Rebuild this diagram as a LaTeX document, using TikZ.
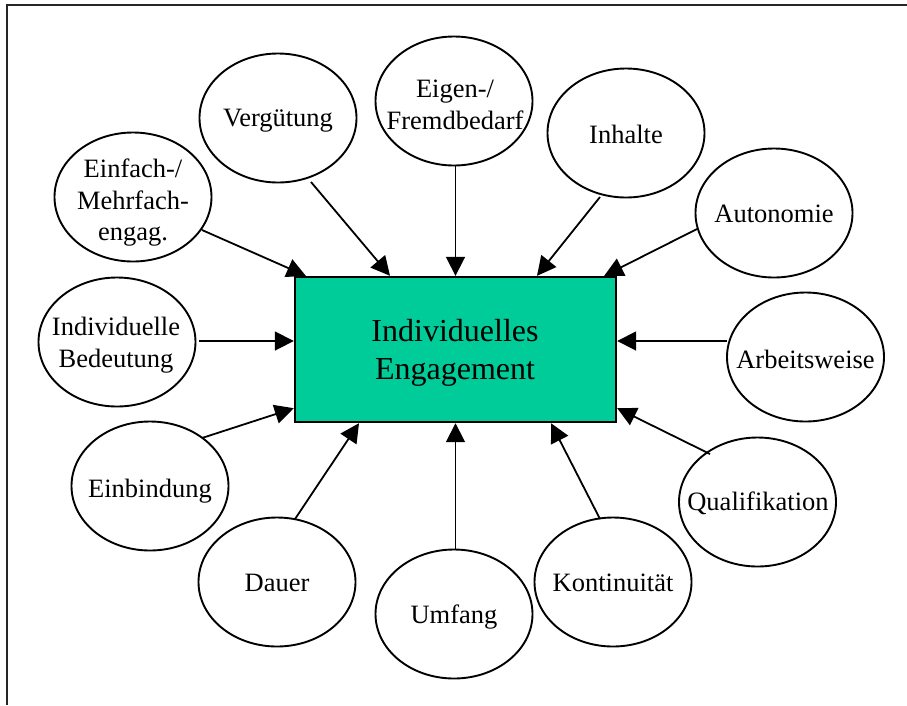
\documentclass[tikz,border=0pt]{standalone}
\usepackage{fontspec}
\setmainfont{Liberation Serif}
\usetikzlibrary{arrows.meta,shapes.geometric}
\definecolor{boxgreen}{HTML}{00CC99}
\tikzset{
  ell/.style={draw=black, line width=1.9pt, ellipse, minimum width=157pt, minimum height=129pt, inner sep=0pt},
  lbl/.style={align=center, inner sep=0pt, font=\fontsize{26.5}{31.5}\selectfont},
  mainbox/.style={draw=black, line width=2.4pt, fill=boxgreen, rectangle, minimum width=321pt, minimum height=145pt, inner sep=0pt},
  mainlbl/.style={align=center, inner sep=0pt, font=\fontsize{32}{38.3}\selectfont},
  arr/.style={line width=1.8pt, -{Triangle[length=19pt,width=19pt]}},
  frame/.style={line width=2pt, draw=black!85}
}
\begin{document}
\begin{tikzpicture}[x=1pt,y=-1pt]
\useasboundingbox (0,0) rectangle (907,705);
\draw[frame] (7,705) -- (7,5) -- (907,5);

% central box
\node[mainbox] (box) at (455.5,349.5) {};
\node[mainlbl] (boxt) at (455,353) {Individuelles\\Engagement};

% ellipses
\node[ell] (einf) at (133,197) {};
\node[ell] (verg) at (278,118) {};
\node[ell] (eigen) at (454,101) {};
\node[ell] (inh) at (626,133) {};
\node[ell] (auton) at (774,213) {};
\node[ell] (arb) at (805.5,357) {};
\node[ell] (qual) at (757.5,502) {};
\node[ell] (kont) at (613,582) {};
\node[ell] (umf) at (454,614) {};
\node[ell] (dauer) at (277,582) {};
\node[ell] (einb) at (150,486) {};
\node[ell] (indb) at (117,342) {};

% labels
\node[lbl] (einft) at (133,203) {Einfach-/\\Mehrfach-\\engag.};
\node[lbl] (vergt) at (278,121) {Vergütung};
\node[lbl] (eigent) at (455,105) {Eigen-/\\Fremdbedarf};
\node[lbl] (inht) at (626,134) {Inhalte};
\node[lbl] (autont) at (774,214) {Autonomie};
\node[lbl] (arbt) at (805.5,359) {Arbeitsweise};
\node[lbl] (qualt) at (758,503) {Qualifikation};
\node[lbl] (kontt) at (613,583) {Kontinuität};
\node[lbl] (umft) at (454,617) {Umfang};
\node[lbl] (dauert) at (277,583) {Dauer};
\node[lbl] (einbt) at (150,491) {Einbindung};
\node[lbl] (indbt) at (116,345) {Individuelle\\Bedeutung};

% connectors
\draw[arr] ([shift={(69,33)}]einf.center) -- ([shift={(12,0)}]box.north west);
\draw[arr] ([shift={(33,64)}]verg.center) -- ([shift={(-65.5,0)}]box.north);
\draw[arr] ([shift={(1.5,65)}]eigen.center) -- (box.north);
\draw[arr] ([shift={(-26,64)}]inh.center) -- ([shift={(81.5,0)}]box.north);
\draw[arr] ([shift={(-77,16)}]auton.center) -- ([shift={(-13,0)}]box.north east);
\draw[arr] ([shift={(-78.5,-16)}]arb.center) -- ([shift={(0,-8.5)}]box.east);
\draw[arr] ([shift={(-47.5,-48)}]qual.center) -- ([shift={(0,-15)}]box.south east);
\draw[arr] ([shift={(-13,-63)}]kont.center) -- ([shift={(95.5,0)}]box.south);
\draw[arr] ([shift={(1.5,-65)}]umf.center) -- (box.south);
\draw[arr] ([shift={(18,-63)}]dauer.center) -- ([shift={(-96.5,0)}]box.south);
\draw[arr] ([shift={(52,-48)}]einb.center) -- ([shift={(0,-15)}]box.south west);
\draw[arr] ([shift={(82,-1)}]indb.center) -- ([shift={(0,-8.5)}]box.west);
\end{tikzpicture}
\end{document}
